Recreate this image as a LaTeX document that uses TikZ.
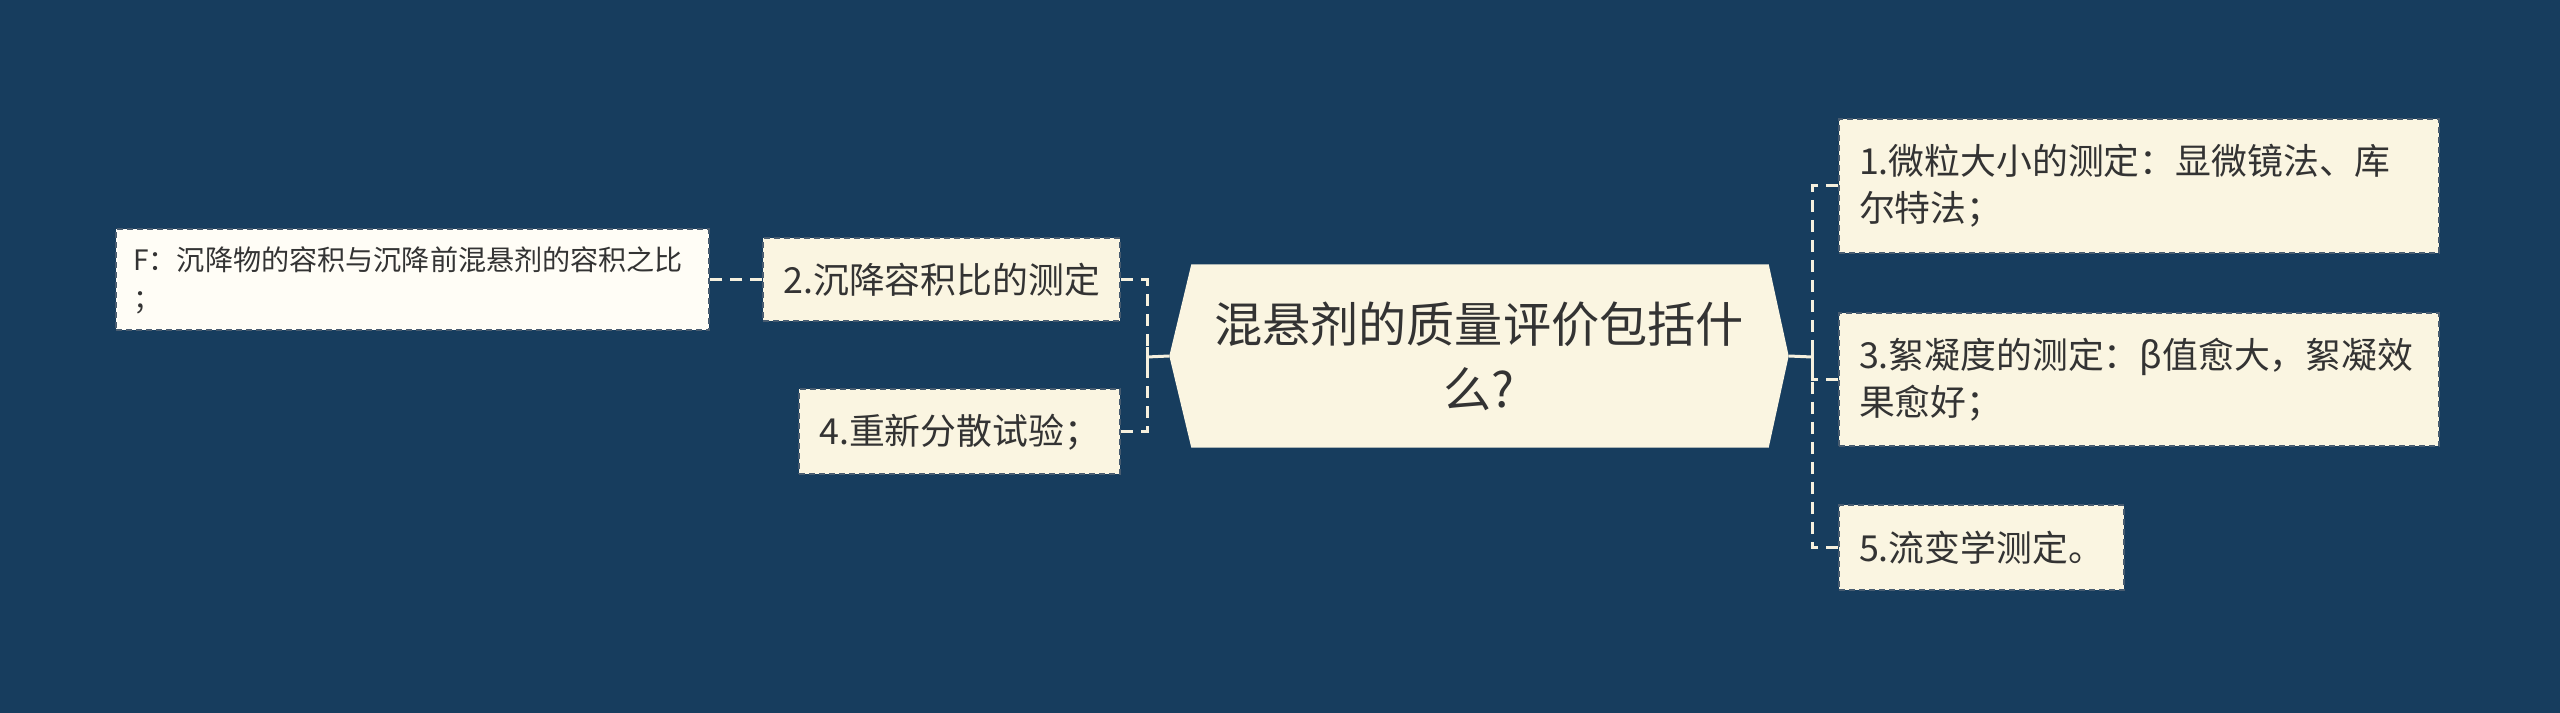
\documentclass[tikz,border=0pt]{standalone}
\usepackage{fontspec}
\setmainfont{Noto Sans CJK SC}
\usetikzlibrary{positioning,backgrounds}

\definecolor{navy}{RGB}{23,61,94}
\definecolor{cream}{RGB}{250,245,225}
\definecolor{paper}{RGB}{255,253,246}
\definecolor{ink}{RGB}{51,51,51}
\definecolor{boxline}{RGB}{72,92,112}
\definecolor{wire}{RGB}{245,240,222}

\tikzset{
  box/.style={draw=boxline, line width=0.2mm, dash pattern=on 0.6mm off 0.4mm,
    fill=cream, text=ink, inner xsep=2mm, inner ysep=0mm},
  leaf/.style={box, font=\fontsize{10.2}{13.4}\selectfont, align=left},
  note/.style={box, fill=paper, font=\fontsize{8}{11.1}\selectfont, align=left, inner xsep=1.7mm},
  hub/.style={text=ink, font=\fontsize{13.7}{18.5}\selectfont, align=center,
    minimum width=61.8mm, minimum height=18.2mm, inner sep=0mm},
  link/.style={wire, line width=0.3mm, dash pattern=on 1.2mm off 0.8mm},
  stem/.style={wire, line width=0.3mm},
}

\begin{document}
\begin{tikzpicture}[x=0.1mm, y=-0.1mm]
    % variables
    \def\spineL{1147}
    \def\spineR{1812}

    % Canvas
    \useasboundingbox (0,0) rectangle (2560,713);
    \begin{pgfonlayer}{background}
        \fill[navy] (0,0) rectangle (2560,713);
    \end{pgfonlayer}

    % Central topic
    \node[hub] (hub) at (1479,356) {混悬剂的质量评价包括什\\么?};
    \begin{pgfonlayer}{background}
        \fill[cream] (hub.west) -- ([xshift=2.2mm]hub.north west) -- ([xshift=-2mm]hub.north east)
            -- (hub.east) -- ([xshift=-2mm]hub.south east) -- ([xshift=2.2mm]hub.south west) -- cycle;
    \end{pgfonlayer}

    % Right branches
    \node[leaf, text width=56mm, minimum height=13.4mm, anchor=west] (m1) at (1838,186) {1.微粒大小的测定：显微镜法、库\\尔特法；};
    \node[leaf, text width=56mm, minimum height=13.3mm, anchor=west] (m3) at (1838,380) {3.絮凝度的测定：β值愈大，絮凝效\\果愈好；};
    \node[leaf, minimum height=8.5mm, anchor=west] (m5) at (1838,548) {5.流变学测定。};

    % Left branches
    \node[leaf, minimum height=8.3mm, anchor=east] (m2) at (1121,280) {2.沉降容积比的测定};
    \node[leaf, minimum height=8.5mm, anchor=east] (m4) at (1121,432) {4.重新分散试验；};
    \node[note, text width=55.9mm, minimum height=10.1mm, left=5.2mm of m2] (f2) {F：沉降物的容积与沉降前混悬剂的容积之比\\；};

    % Spines
    \coordinate (sl) at (\spineL,357);
    \coordinate (sr) at (\spineR,357);

    % Connectors
    \draw[link] (m2.east) -| (sl);
    \draw[link] (m4.east) -| (sl);
    \draw[stem] (sl) -- (hub.west);
    \draw[stem] ([yshift=-1mm]sl) -- ([yshift=1mm]sl);

    \draw[link] (m1.west) -| (sr);
    \draw[link] (m3.west) -| (sr);
    \draw[link] (m5.west) -| (sr);
    \draw[stem] (hub.east) -- (sr);
    \draw[stem] ([yshift=-1mm]sr) -- ([yshift=1mm]sr);

    \draw[link] (m2.west) -- (f2.east);
\end{tikzpicture}
\end{document}
